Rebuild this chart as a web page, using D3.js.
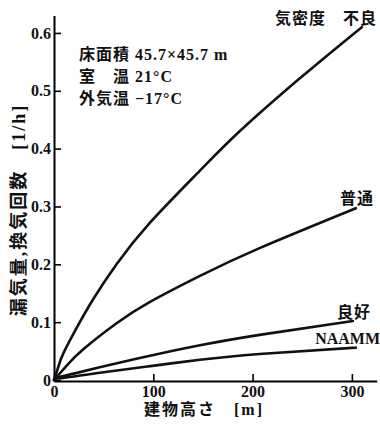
<!DOCTYPE html>
<html>
<head>
<meta charset="utf-8">
<script src="https://cdn.jsdelivr.net/npm/d3@7"></script>
<style>
  body { margin: 0; background: #fff; }
  text { fill: #111; }
</style>
</head>
<body>
<div id="chart"></div>
<script>
// building height [m] and leakage / air change rate [1/h]
const heightPoor = [0, 4.4, 9.4, 22.8, 39.6, 63, 96.7, 147, 187, 250, 310];
const ratePoor   = [0, 0.023, 0.046, 0.090, 0.140, 0.200, 0.272, 0.362, 0.43, 0.525, 0.61];

const heightNormal = [0, 12.8, 29.5, 63, 96.7, 147, 207, 304];
const rateNormal   = [0, 0.025, 0.053, 0.098, 0.135, 0.180, 0.228, 0.297];

const heightGood = [0, 5, 20, 46, 96.7, 147, 207, 301];
const rateGood   = [0, 0.005, 0.011, 0.022, 0.042, 0.060, 0.078, 0.102];

const heightNaamm = [0, 5, 20, 50, 97, 147, 207, 304];
const rateNaamm   = [0, 0.003, 0.006, 0.0135, 0.024, 0.035, 0.045, 0.056];

const seriesLabels = ['気密度\u3000不良', '普通', '良好', 'NAAMM'];
const xTicks = [0, 100, 200, 300];
const yTicks = [0, 0.1, 0.2, 0.3, 0.4, 0.5, 0.6];
const noteLines = ['床面積 45.7×45.7 m', '室\u3000温 21°C', '外気温 −17°C'];

const W = 380, H = 424;
const svg = d3.select('#chart').append('svg')
    .attr('width', W)
    .attr('height', H);

const x = d3.scaleLinear().domain([0, 325]).range([54, 376.7]);
const y = d3.scaleLinear().domain([0, 0.63]).range([380, 15.6]);

const font = '"Liberation Serif", "Noto Sans CJK JP", serif';

// y axis, ticks pointing inward
const yAxis = svg.append('g')
    .attr('transform', `translate(${x(0)},0)`)
    .call(d3.axisLeft(y).tickValues(yTicks)
        .tickSizeInner(-7).tickSizeOuter(0).tickPadding(3)
        .tickFormat(d => d === 0 ? '0' : d3.format('.1f')(d)));
yAxis.select('.domain').attr('stroke-width', 2);
yAxis.selectAll('.tick line').attr('stroke-width', 1.6);
yAxis.selectAll('.tick text')
    .attr('font-family', font).attr('font-size', 16).attr('font-weight', 'bold')
    .attr('fill', '#111');

// x axis
const xAxis = svg.append('g')
    .attr('transform', `translate(0,${y(0) + 1})`)
    .call(d3.axisBottom(x).tickValues(xTicks)
        .tickSizeInner(-7).tickSizeOuter(0).tickPadding(5));
xAxis.select('.domain').attr('stroke-width', 2);
xAxis.selectAll('.tick line').attr('stroke-width', 1.6);
xAxis.selectAll('.tick text')
    .attr('font-family', font).attr('font-size', 16).attr('font-weight', 'bold')
    .attr('fill', '#111');

// curves
const line = d3.line()
    .x(d => x(d[0]))
    .y(d => y(d[1]))
    .curve(d3.curveNatural);

const series = [
    { xs: heightPoor, ys: ratePoor },
    { xs: heightNormal, ys: rateNormal },
    { xs: heightGood, ys: rateGood },
    { xs: heightNaamm, ys: rateNaamm }
];

svg.selectAll('path.curve')
    .data(series)
    .enter().append('path')
    .attr('class', 'curve')
    .attr('d', s => line(s.xs.map((h, i) => [h, s.ys[i]])))
    .attr('fill', 'none')
    .attr('stroke', '#111')
    .attr('stroke-width', 2.6)
    .attr('stroke-linecap', 'round');

// curve labels
const labelPos = [[377, 24], [374, 204], [371, 318], [380, 344]];
svg.selectAll('text.series')
    .data(seriesLabels)
    .enter().append('text')
    .attr('class', 'series')
    .attr('x', (d, i) => labelPos[i][0])
    .attr('y', (d, i) => labelPos[i][1])
    .attr('text-anchor', 'end')
    .attr('font-family', font)
    .attr('font-size', 16)
    .attr('font-weight', 'bold')
    .attr('letter-spacing', (d, i) => i === 3 ? 0 : 1)
    .text(d => d);

// conditions note
svg.selectAll('text.note')
    .data(noteLines)
    .enter().append('text')
    .attr('class', 'note')
    .attr('x', 79)
    .attr('y', (d, i) => 60 + i * 22)
    .attr('font-family', font)
    .attr('font-size', 16)
    .attr('font-weight', 'bold')
    .attr('letter-spacing', 1)
    .text(d => d);

// axis titles
svg.append('text')
    .attr('transform', 'translate(25,210) rotate(-90)')
    .attr('text-anchor', 'middle')
    .attr('font-family', font)
    .attr('font-size', 18)
    .attr('font-weight', 'bold')
    .attr('letter-spacing', 2)
    .text('漏気量,換気回数\u3000[1/h]');

svg.append('text')
    .attr('x', 204)
    .attr('y', 415)
    .attr('text-anchor', 'middle')
    .attr('font-family', font)
    .attr('font-size', 16)
    .attr('font-weight', 'bold')
    .attr('letter-spacing', 2)
    .text('建物高さ\u3000[m]');
</script>
</body>
</html>
